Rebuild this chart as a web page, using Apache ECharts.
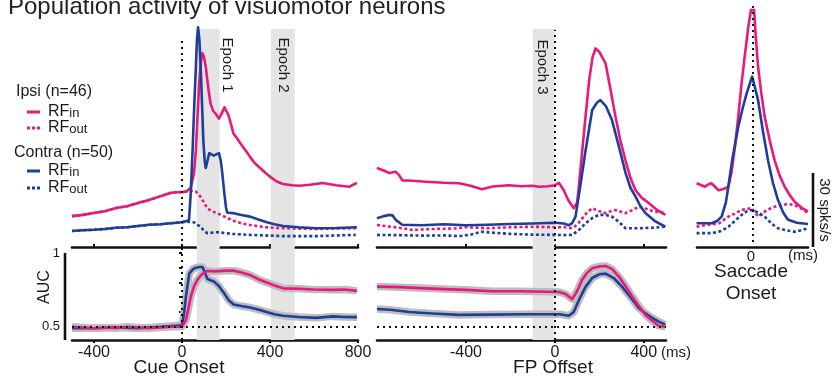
<!DOCTYPE html>
<html><head><meta charset="utf-8">
<script src="https://cdn.jsdelivr.net/npm/echarts@6/dist/echarts.min.js"></script>
<style>html,body{margin:0;padding:0;background:#fff}#c{width:839px;height:377px}</style>
</head><body><div id="c"></div>
<script>
// ---------- data (firing rate in spks/s, AUC unitless, time in ms) ----------
const cueTicks = [-400, 0, 400, 800];
const fpTicks = [-400, 0, 400];
const sacTicks = [0];
const aucTicks = [0.5, 0.6, 0.7, 0.8, 0.9, 1];
const aucLabels = [0.5, 1];
const cueEpochs = [[67, 171], [404, 512]];
const fpEpochs = [[-100, 0]];

const ipsiInCue = [[-500,12.5],[-450,13],[-400,13.8],[-350,14.5],[-300,15.8],[-250,16.5],[-200,17.8],[-150,19],[-100,20.5],[-50,22],[0,22.3],[20,22.5],[40,24],[55,30],[63,39],[70,52],[78,66],[86,75],[93,78.5],[100,77],[108,73],[120,64],[130,58],[142,55],[153,54],[168,52],[180,54],[193,56.6],[200,56],[211,53.4],[222,50],[234,46],[250,44],[265,42],[290,39],[310,36.4],[330,34],[355,32],[380,30],[400,28.5],[430,26.5],[460,25.5],[500,25],[535,24.8],[580,25.2],[640,25.9],[700,25],[760,24.4],[795,26]];
const contraInCue = [[-500,6.5],[-450,6.8],[-400,7],[-350,7.3],[-300,7.8],[-250,8],[-200,8.5],[-150,9],[-100,9.2],[-50,9.6],[0,10],[20,10.5],[32,11],[40,22],[48,39],[56,58],[63,73],[68,84],[73,89],[79,84],[85,73],[91,58],[97,43],[103,35],[108,32],[116,35],[124,38],[130,38.5],[144,37],[156,37.5],[168,38],[176,35],[183,30],[192,22],[200,16],[205,14],[220,13.8],[234,13.7],[270,13],[310,12.3],[350,11],[386,10],[420,9.2],[460,8.5],[530,8],[610,7.6],[700,7.7],[795,8]];
const ipsiOutCue = [[-500,12.5],[-450,13],[-400,13.8],[-350,14.5],[-300,15.8],[-250,16.5],[-200,17.8],[-150,19],[-100,20.5],[-50,22],[0,22.3],[20,22.5],[40,22.8],[63,22.5],[85,20.3],[100,18],[115,15.7],[135,14.5],[160,13.7],[200,12],[234,10.6],[270,9.6],[310,8.9],[380,8],[460,7.6],[610,7.3],[700,7.5],[790,7.6]];
const contraOutCue = [[-500,6.5],[-450,6.8],[-400,7],[-350,7.3],[-300,7.8],[-250,8],[-200,8.5],[-150,9],[-100,9.2],[-50,9.6],[0,10],[20,10.3],[54,10],[70,9],[85,8.2],[100,6.5],[115,5.6],[160,6],[230,5.3],[310,4.9],[460,4.4],[610,4.4],[790,4.9]];

const ipsiInFP = [[-800,32],[-770,31],[-746,30],[-716,30.5],[-700,29],[-686,27],[-640,26.8],[-581,26.4],[-500,26],[-431,25.8],[-380,24.8],[-328,23.4],[-280,24.5],[-207,25],[-150,24.6],[-100,24.8],[-72,24.4],[-30,24.6],[0,25],[18,26],[40,23],[60,19],[85,15.7],[100,18],[108,24.4],[120,36],[138,52.7],[155,68],[170,77],[183,80.4],[200,79],[228,74.4],[250,64],[273,52.7],[295,43],[318,35],[340,28],[363,23],[390,20],[422,17.8],[460,15],[497,13]];
const contraInFP = [[-800,11.6],[-770,12.5],[-746,13],[-730,12.8],[-716,11],[-686,9],[-600,8.8],[-500,9.2],[-400,8.8],[-300,9],[-200,9.3],[-100,9.5],[0,9.8],[40,9.5],[63,8.8],[78,9.7],[93,12.3],[115,25],[138,39],[168,55.5],[190,58.5],[205,59.5],[230,57],[257,51.4],[290,40],[318,30],[340,24],[363,20.4],[385,16.5],[408,13.7],[450,10.5],[497,8.2]];
const ipsiOutFP = [[-800,8.9],[-700,7.8],[-640,6.9],[-550,7.3],[-450,7.5],[-400,8],[-300,7.6],[-200,8],[-100,8.2],[0,8],[40,8],[78,7.6],[100,9],[123,11.6],[145,14],[168,15.7],[200,14.5],[228,13.7],[250,14.5],[273,15],[300,14.2],[318,13.7],[350,15],[378,16.3],[400,16],[422,15],[460,14.2],[497,13.7]];
const contraOutFP = [[-800,4.9],[-700,4.8],[-600,4.6],[-500,4.7],[-430,4.4],[-380,5],[-328,6.2],[-280,5.8],[-200,5.3],[-100,5],[0,4.9],[40,4.8],[78,4.9],[110,7],[138,9.6],[170,11.8],[198,13],[230,13],[257,12.3],[290,10],[318,7.6],[378,7.6],[440,7.8],[497,8.2]];

const ipsiInSac = [[-252,25.8],[-230,25],[-214,24.4],[-200,25.3],[-184,25.8],[-170,24.5],[-154,23],[-130,23.5],[-109,24.4],[-95,30],[-79,40.6],[-64,53],[-49,66.4],[-34,78],[-19,89],[-7,96],[7,96],[15,85],[25,73],[40,62],[55,52.7],[78,43],[100,35],[122,29],[145,24.4],[168,21],[190,18.3],[220,16],[250,14.3]];
const contraInSac = [[-252,9.6],[-184,9.6],[-160,10.5],[-139,12.3],[-120,18],[-109,24.4],[-90,36],[-64,48.7],[-45,56],[-27,62],[-2,69],[10,65],[25,59.5],[45,48],[70,35],[92,26],[115,19],[138,14],[160,11],[200,9.8],[250,9.3]];
const ipsiOutSac = [[-252,8.2],[-200,9],[-150,9.6],[-109,12.3],[-80,13.5],[-49,15],[-20,15.5],[-4,15.7],[12,14],[25,12.3],[40,13.3],[55,14.3],[78,15.5],[100,16.3],[130,17],[160,17.4],[185,17],[205,16.3],[230,15],[250,13.7]];
const contraOutSac = [[-252,5.6],[-184,5.6],[-140,6.5],[-109,8.2],[-80,10.5],[-49,13],[-25,14.5],[-4,15],[25,14],[55,12.3],[85,9.5],[115,7.6],[150,6.8],[190,6.2],[220,6.8],[250,7.6]];

const ipsiAucCue = [[-500,0.5],[-450,0.495],[-400,0.49],[-350,0.495],[-300,0.49],[-250,0.5],[-200,0.495],[-150,0.49],[-100,0.495],[-50,0.5],[0,0.5],[18,0.547],[30,0.63],[40,0.705],[55,0.775],[70,0.818],[90,0.855],[115,0.878],[150,0.875],[200,0.88],[234,0.88],[270,0.868],[310,0.85],[350,0.82],[385,0.8],[420,0.78],[460,0.76],[535,0.757],[600,0.752],[685,0.75],[740,0.752],[795,0.743]];
const contraAucCue = [[-500,0.49],[-400,0.49],[-300,0.495],[-200,0.49],[-100,0.5],[0,0.51],[10,0.6],[18,0.705],[33,0.86],[50,0.89],[63,0.9],[80,0.905],[93,0.905],[103,0.87],[115,0.825],[130,0.815],[145,0.806],[165,0.78],[190,0.73],[212,0.68],[235,0.65],[270,0.64],[310,0.63],[350,0.615],[385,0.6],[420,0.585],[460,0.574],[530,0.566],[610,0.56],[685,0.57],[740,0.566],[795,0.565]];
const ipsiAucFP = [[-800,0.772],[-700,0.768],[-580,0.76],[-500,0.755],[-400,0.75],[-280,0.74],[-150,0.74],[-40,0.737],[20,0.735],[50,0.72],[78,0.687],[100,0.74],[123,0.818],[145,0.865],[168,0.896],[200,0.908],[228,0.912],[258,0.89],[288,0.84],[318,0.775],[348,0.705],[378,0.64],[408,0.58],[438,0.54],[467,0.507],[497,0.5]];
const contraAucFP = [[-800,0.62],[-740,0.615],[-655,0.6],[-550,0.59],[-430,0.58],[-300,0.582],[-130,0.585],[20,0.585],[63,0.574],[85,0.6],[108,0.68],[138,0.77],[168,0.83],[200,0.855],[228,0.86],[265,0.83],[303,0.77],[340,0.7],[378,0.626],[408,0.59],[438,0.56],[467,0.535],[497,0.514]];

// ---------- styling ----------
const PINK = '#e8197d', BLUE = '#1f3e9a', BAND = '#bdbdbd', SHADE = '#e4e4e4';
const FONT = "'Liberation Sans', Arial, sans-serif";
const TXT = '#1a1a1a';
const FR_MAX = 98, AUC_MIN = 0.41, AUC_MAX = 1.047, SHADE_TOP = 88.3;
const DOT = { color: '#111', width: 2, type: [2, 4] };

const chart = echarts.init(document.getElementById('c'), null, { renderer: 'canvas' });

function ln(data, idx, color, dashed, width) {
  return {
    type: 'line', xAxisIndex: idx, yAxisIndex: idx, data: data, showSymbol: false, symbol: 'none',
    silent: true, animation: false,
    lineStyle: { color: color, width: width || 2.6, type: dashed ? [3, 2.5] : 'solid', cap: 'butt', join: 'round' }
  };
}
function shadeArea(epochs, lo, hi) {
  return { silent: true, itemStyle: { color: SHADE }, data: epochs.map(e => [{ xAxis: e[0], yAxis: lo }, { xAxis: e[1], yAxis: hi }]) };
}
function vZero(lo, hi, extra) {
  const d = [[{ coord: [0, lo] }, { coord: [0, hi] }]];
  if (extra) d.push(extra);
  return { silent: true, symbol: ['none', 'none'], label: { show: false }, lineStyle: DOT, data: d };
}
const halfLine = (x0, x1) => [{ coord: [x0, 0.5] }, { coord: [x1, 0.5] }];

function xAx(idx, min, max, ticks, labels) {
  return {
    gridIndex: idx, type: 'value', min: min, max: max,
    axisLine: { show: true, onZero: false, lineStyle: { color: '#111', width: 2.6 } },
    axisTick: { show: ticks.length > 0, customValues: ticks, length: 3, inside: !labels, lineStyle: { color: '#111', width: 2 } },
    axisLabel: labels ? { show: true, customValues: ticks, fontSize: 16, color: TXT, fontFamily: FONT, margin: 5 } : { show: false },
    splitLine: { show: false }
  };
}

const s = [];
// cue top
const c0 = ln(ipsiInCue, 0, PINK);
c0.markArea = shadeArea(cueEpochs, 0, SHADE_TOP);
c0.markLine = vZero(0, 84);
s.push(c0, ln(ipsiOutCue, 0, PINK, true), ln(contraOutCue, 0, BLUE, true), ln(contraInCue, 0, BLUE));
// fp top
const f0 = ln(ipsiInFP, 1, PINK);
f0.markArea = shadeArea(fpEpochs, 0, SHADE_TOP);
f0.markLine = vZero(0, 88);
s.push(f0, ln(ipsiOutFP, 1, PINK, true), ln(contraOutFP, 1, BLUE, true), ln(contraInFP, 1, BLUE));
// saccade top
const sc0 = ln(ipsiInSac, 2, PINK);
sc0.markLine = vZero(2, FR_MAX);
s.push(sc0, ln(ipsiOutSac, 2, PINK, true), ln(contraOutSac, 2, BLUE, true), ln(contraInSac, 2, BLUE));
// cue AUC
const a0 = ln(ipsiAucCue, 3, BAND, false, 7.5);
a0.markArea = shadeArea(cueEpochs, AUC_MIN, AUC_MAX);
a0.markLine = vZero(AUC_MIN, AUC_MAX, halfLine(-500, 800));
s.push(a0, ln(contraAucCue, 3, BAND, false, 7.5), ln(contraAucCue, 3, BLUE), ln(ipsiAucCue, 3, PINK));
// fp AUC
const b0 = ln(ipsiAucFP, 4, BAND, false, 7.5);
b0.markArea = shadeArea(fpEpochs, AUC_MIN, AUC_MAX);
b0.markLine = vZero(AUC_MIN, AUC_MAX, halfLine(-800, 500));
s.push(b0, ln(contraAucFP, 4, BAND, false, 7.5), ln(contraAucFP, 4, BLUE), ln(ipsiAucFP, 4, PINK));

const option = {
  animation: false,
  backgroundColor: '#fff',
  textStyle: { fontFamily: FONT },
  grid: [
    { left: 72, top: 5, width: 286, height: 242 },
    { left: 377, top: 5, width: 289, height: 242 },
    { left: 697, top: 5, width: 111, height: 242 },
    { left: 72, top: 246, width: 286, height: 94 },
    { left: 377, top: 246, width: 289, height: 94 }
  ],
  xAxis: [
    xAx(0, -500, 800, cueTicks, false),
    xAx(1, -800, 500, fpTicks, false),
    xAx(2, -250, 250, [], false),
    xAx(3, -500, 800, cueTicks, true),
    xAx(4, -800, 500, fpTicks, true)
  ],
  yAxis: [
    { gridIndex: 0, type: 'value', min: 0, max: FR_MAX, show: false },
    { gridIndex: 1, type: 'value', min: 0, max: FR_MAX, show: false },
    { gridIndex: 2, type: 'value', min: 0, max: FR_MAX, show: false },
    { gridIndex: 3, type: 'value', min: AUC_MIN, max: AUC_MAX, offset: 7,
      axisLine: { show: false },
      axisTick: { show: true, customValues: aucTicks, length: 3, lineStyle: { color: '#111', width: 2 } },
      axisLabel: { show: true, customValues: aucLabels, fontSize: 13, color: TXT, fontFamily: FONT, margin: 5,
        formatter: v => (Math.abs(v - 1) < 1e-6 ? '1' : String(v)) },
      splitLine: { show: false } },
    { gridIndex: 4, type: 'value', min: AUC_MIN, max: AUC_MAX, show: false }
  ],
  series: s
};
chart.setOption(option);

// ---------- annotations ----------
const pAucTop = chart.convertToPixel({ xAxisIndex: 3, yAxisIndex: 3 }, [-500, 1]);
const pAucBot = chart.convertToPixel({ xAxisIndex: 3, yAxisIndex: 3 }, [-500, AUC_MIN]);
const pBar0 = chart.convertToPixel({ xAxisIndex: 2, yAxisIndex: 2 }, [250, 0]);
const pBar30 = chart.convertToPixel({ xAxisIndex: 2, yAxisIndex: 2 }, [250, 30]);
const barX = pBar0[0] + 5;

function txt(t, x, y, size, opts) {
  return Object.assign({ type: 'text', x: x, y: y, z: 100, silent: true,
    style: Object.assign({ text: t, fontSize: size, fontFamily: FONT, fill: TXT, align: 'left', verticalAlign: 'middle' }, (opts && opts.style) || {}) },
    opts && opts.rotation !== undefined ? { rotation: opts.rotation } : {});
}
function seg(x1, y1, x2, y2, color, dashed, w) {
  return { type: 'line', z: 100, silent: true, shape: { x1, y1, x2, y2 },
    style: { stroke: color, lineWidth: w || 3, lineDash: dashed ? [3, 2] : null } };
}
function rf(sub, x, y) {
  return { type: 'text', x: x, y: y, z: 100, silent: true,
    style: { text: '{a|RF}{b|' + sub + '}', fontFamily: FONT, fill: TXT, verticalAlign: 'middle',
      rich: { a: { fontSize: 16, fontFamily: FONT, fill: TXT, verticalAlign: 'bottom' }, b: { fontSize: 13, fontFamily: FONT, fill: TXT, verticalAlign: 'bottom' } } } };
}
const ROT = -Math.PI / 2;
chart.setOption({
  graphic: [
    txt('Population activity of visuomotor neurons', 8, 7, 24, { style: { fill: '#222' } }),
    txt('Ipsi (n=46)', 16, 92, 16),
    seg(27, 112, 40, 112, PINK, false), rf('in', 48, 112),
    seg(27, 128, 40, 128, PINK, true), rf('out', 48, 128),
    txt('Contra (n=50)', 14, 153, 16),
    seg(27, 171, 40, 171, BLUE, false), rf('in', 48, 171),
    seg(27, 188, 40, 188, BLUE, true), rf('out', 48, 188),
    txt('Epoch 1', 227, 65, 15, { rotation: ROT, style: { align: 'center' } }),
    txt('Epoch 2', 283, 65, 15, { rotation: ROT, style: { align: 'center' } }),
    txt('Epoch 3', 542, 67, 15, { rotation: ROT, style: { align: 'center' } }),
    txt('AUC', 45, 287, 16, { rotation: Math.PI / 2, style: { align: 'center' } }),
    txt('Cue Onset', 179, 368, 19, { style: { align: 'center' } }),
    txt('FP Offset', 553, 368, 19, { style: { align: 'center' } }),
    txt('(ms)', 661, 353, 15),
    txt('0', 751, 257, 15, { style: { align: 'center' } }),
    txt('(ms)', 788, 256, 15),
    txt('Saccade', 751, 272, 19, { style: { align: 'center' } }),
    txt('Onset', 751, 294, 19, { style: { align: 'center' } }),
    seg(barX, pBar0[1], barX, pBar30[1], '#111', false, 2.6),
    txt('30 spks/s', barX + 11, (pBar0[1] + pBar30[1]) / 2, 15, { rotation: ROT, style: { align: 'center' } }),
    seg(pAucTop[0] - 7, pAucTop[1], pAucTop[0] - 7, pAucBot[1], '#111', false, 2.6)
  ]
});
</script></body></html>
